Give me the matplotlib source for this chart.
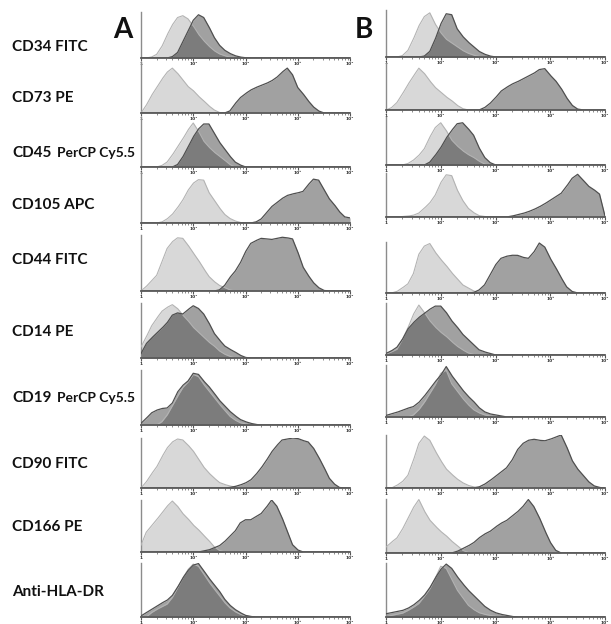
import numpy as np
import matplotlib
matplotlib.use("Agg")
import matplotlib.pyplot as plt
from matplotlib.ticker import LogLocator, NullFormatter, FixedLocator

# ---- data: histogram heights (% of panel height) at log10(intensity) = 0.0, 0.1, ... 4.0 ----
LOGX = np.round(np.arange(0, 4.01, 0.1), 2)

MARKERS = ["CD34", "CD73", "CD45", "CD105", "CD44", "CD14", "CD19", "CD90", "CD166", "Anti-HLA-DR"]
MAIN_LABELS = ["CD34 FITC", "CD73 PE", "CD45", "CD105 APC", "CD44 FITC", "CD14 PE", "CD19",
               "CD90 FITC", "CD166 PE", "Anti-HLA-DR"]
SUB_LABELS = ["", "", "PerCP Cy5.5", "", "", "", "PerCP Cy5.5", "", "", ""]
PANEL_TITLES = ["A", "B"]
TICK_LABELS = ["1", "10¹", "10²", "10³", "10⁴"]

# Column A
A_CD34_ISO = [0,0,2,8,25,50,72,88,92,85,70,52,38,26,16,9,5,2,1]
A_CD34_MARK = [0,0,0,0,0,0,3,12,35,58,82,94,88,68,45,28,17,10,5,2,0.5]
A_CD73_ISO = [0,15,34,50,66,80,88,78,65,52,44,33,24,14,6,1]
A_CD73_MARK = [0,0,0,0,0,0,0,0,0,0, 0,0,0,0,0,0,0,4,18,30, 38,45,50,54,58,63,70,80,88,75, 50,38,24,12,4]
A_CD45_ISO = [0,0,0,0,3,10,24,40,56,74, 88,72,52,40,30,22,14,5]
A_CD45_MARK = [0,0,0,0,0,0,0,5,20,40, 60,76,86,86,68,50,36,22,10,4]
A_CD105_ISO = [0,0,0,0,2,8,17,30,45,64, 78,85,84,60,45,30,17,9,4,1]
A_CD105_MARK = [0,0,0,0,0,0,0,0,0,0, 0,0,0,0,0,0,0,0,0,0, 0,0,2,8,20,32,40,48,54,57, 59,62,75,86,84,66,48,36,22,12, 10]
A_CD44_ISO = [0,8,18,28,52,76,88,95,94,82, 68,55,40,26,17,10,6,2]
A_CD44_MARK = [0,0,0,0,0,0,0,0,0,0, 0,0,0,0,0,2,10,24,35,50, 70,85,90,94,93,92,94,96,95,93, 70,43,28,15,6,1]
A_CD14_ISO = [20,38,58,72,85,92,97,90,78,68, 56,47,38,29,22,13,7,3]
A_CD14_MARK = [8,26,36,45,54,64,78,82,80,88, 95,90,80,64,45,33,22,16,11,5, 1]
A_CD19_ISO = [0,0,0,0,6,18,35,52,68,78, 92,88,74,62,50,38,27,16,9,4, 2]
A_CD19_MARK = [3,12,22,27,30,31,40,60,72,80, 94,92,80,70,58,45,35,25,17,10, 6,3,1]
A_CD90_ISO = [0,12,28,42,62,80,92,98,96,86, 74,58,42,30,20,11,7,4,2,1]
A_CD90_MARK = [0,0,0,0,0,0,0,0,0,0, 0,0,0,0,0,0,0,1,3,6, 10,16,27,40,55,72,85,96,98,100, 99,95,92,80,62,42,20,8,1]
A_CD166_ISO = [13,38,50,62,75,88,98,88,74,64, 52,43,32,22,10,3]
A_CD166_MARK = [0,0,0,0,0,0,0,0,0,0, 0,0,2,4,8,12,20,30,40,56, 62,62,68,74,86,100,88,66,40,14, 4]
A_HLA_ISO = [0,0,8,14,19,24,36,54,72,88, 98,94,80,65,52,40,27,17,10,5, 2]
A_HLA_MARK = [2,8,14,20,26,31,40,55,72,86, 96,99,86,72,60,48,33,22,14,8, 3,1]

# Column B
B_CD34_ISO = [0,0,0,3,14,38,66,86,94,70, 52,38,30,22,14,8,4,1]
B_CD34_MARK = [0,0,0,0,0,0,0,2,12,38, 70,92,90,60,44,32,22,12,6,2]
B_CD73_ISO = [0,5,16,34,54,72,89,78,62,48, 38,28,20,10,3]
B_CD73_MARK = [0,0,0,0,0,0,0,0,0,0, 0,0,0,0,0,0,0,0,5,14, 26,40,48,55,60,66,72,78,86,88, 74,62,46,26,10,2]
B_CD45_ISO = [0,0,0,0,3,10,20,34,58,78, 88,72,52,40,30,22,16,8,2]
B_CD45_MARK = [0,0,0,0,0,0,0,0,6,20, 36,56,72,86,88,76,62,36,16,5]
B_CD105_ISO = [0,0,0,1,2,4,9,20,32,50, 78,96,94,62,38,20,10,3,1]
B_CD105_MARK = [0,0,0,0,0,0,0,0,0,0, 0,0,0,0,0,0,0,0,0,0, 0,0,0,2,5,8,12,17,23,30, 38,46,54,70,88,97,84,70,62,52, 2]
B_CD44_ISO = [0,0,3,10,18,38,76,92,97,80, 66,54,40,28,16,10,4,1]
B_CD44_MARK = [0,0,0,0,0,0,0,0,0,0, 0,0,0,0,0,0,1,6,16,35, 55,68,72,74,74,70,68,80,98,90, 68,50,30,12,3]
B_CD14_ISO = [2,6,11,30,52,78,96,82,66,54, 44,36,26,17,10,4,1]
B_CD14_MARK = [3,8,15,30,50,62,72,80,88,94, 94,82,66,54,40,30,20,10,6,3]
B_CD19_ISO = [0,0,0,0,0,4,14,28,45,62, 84,90,64,50,36,24,14,8,4,2]
B_CD19_MARK = [3,6,9,13,17,20,28,40,54,68, 80,97,80,66,52,40,30,18,10,6, 4,2]
B_CD90_ISO = [0,0,5,12,24,52,84,98,90,70, 52,36,26,17,10,5,2,1]
B_CD90_MARK = [0,0,0,0,0,0,0,0,0,0, 0,0,0,0,0,0,0,2,7,14, 22,30,38,52,72,84,90,92,90,89, 92,96,100,78,52,36,24,12,4,1]
B_CD166_ISO = [11,20,28,44,64,84,99,78,61,50, 40,32,22,14,5,1]
B_CD166_MARK = [0,0,0,0,0,0,0,0,0,0, 0,0,0,3,8,13,19,28,35,40, 48,55,60,68,76,86,99,86,66,42, 20,5]
B_HLA_ISO = [0,3,5,7,12,18,25,38,52,72, 94,90,70,50,36,22,14,8,5,3, 1]
B_HLA_MARK = [6,8,10,12,16,22,30,40,54,72, 88,98,90,75,62,50,40,30,20,13, 8,5,3,1]

COL_A = [(A_CD34_ISO, A_CD34_MARK), (A_CD73_ISO, A_CD73_MARK), (A_CD45_ISO, A_CD45_MARK),
         (A_CD105_ISO, A_CD105_MARK), (A_CD44_ISO, A_CD44_MARK), (A_CD14_ISO, A_CD14_MARK),
         (A_CD19_ISO, A_CD19_MARK), (A_CD90_ISO, A_CD90_MARK), (A_CD166_ISO, A_CD166_MARK),
         (A_HLA_ISO, A_HLA_MARK)]
COL_B = [(B_CD34_ISO, B_CD34_MARK), (B_CD73_ISO, B_CD73_MARK), (B_CD45_ISO, B_CD45_MARK),
         (B_CD105_ISO, B_CD105_MARK), (B_CD44_ISO, B_CD44_MARK), (B_CD14_ISO, B_CD14_MARK),
         (B_CD19_ISO, B_CD19_MARK), (B_CD90_ISO, B_CD90_MARK), (B_CD166_ISO, B_CD166_MARK),
         (B_HLA_ISO, B_HLA_MARK)]

# ---- layout (pixels) ----
W, H = 611, 624
COL_X = [(141, 350), (386, 605)]
ROWS_A = [(12, 58), (62, 113), (117, 167), (172, 223), (235, 291), (303, 358), (370, 425),
          (438, 488), (500, 552), (563, 617)]
ROWS_B = [(10, 57), (63, 110), (117, 165), (173, 217), (242, 293), (303, 355), (365, 417),
          (435, 488), (499, 553), (563, 617)]
LABEL_Y = [47, 98, 153, 205, 260, 332, 398, 464, 527, 592]

ISO_FILL, ISO_EDGE = "#d8d8d8", "#b3b3b3"
MARK_FILL, MARK_EDGE = "#a1a1a1", "#4f4f4f"
OVER_FILL = "#7c7c7c"

fig = plt.figure(figsize=(W / 100, H / 100), dpi=100)
fig.patch.set_facecolor("white")

FONT = ["Lato", "DejaVu Sans"]


def pad(v):
    v = list(v)
    return np.array(v + [0] * (len(LOGX) - len(v)), dtype=float)


fine = np.linspace(0, 4, 801)


def draw_panel(x0, x1, top, base, iso, mark):
    ax = fig.add_axes([x0 / W, 1 - base / H, (x1 - x0) / W, (base - top) / H])
    ax.set_xscale("log")
    ax.set_xlim(1, 1e4)
    ax.set_ylim(0, 100)
    xf = 10 ** fine
    yi = np.interp(fine, LOGX, pad(iso))
    ym = np.interp(fine, LOGX, pad(mark))
    yo = np.minimum(yi, ym)
    ax.fill_between(xf, 0, yi, color=ISO_FILL, lw=0, zorder=1)
    ax.fill_between(xf, 0, ym, color=MARK_FILL, lw=0, zorder=2)
    ax.fill_between(xf, 0, yo, color=OVER_FILL, lw=0, zorder=3)
    ax.plot(xf, yi, color=ISO_EDGE, lw=0.8, zorder=4)
    ax.plot(xf, ym, color=MARK_EDGE, lw=0.9, zorder=5)
    for s in ("top", "right"):
        ax.spines[s].set_visible(False)
    ax.spines["left"].set_color("#8c8c8c")
    ax.spines["left"].set_linewidth(1.0)
    ax.spines["bottom"].set_color("#5a5a5a")
    ax.spines["bottom"].set_linewidth(1.3)
    ax.spines["bottom"].set_zorder(6)
    ax.set_yticks([])
    ax.xaxis.set_major_locator(FixedLocator([1, 10, 100, 1000, 10000]))
    ax.set_xticklabels(TICK_LABELS, fontsize=3.2, fontweight="bold", color="#333333")
    ax.xaxis.set_minor_locator(LogLocator(base=10, subs=np.arange(2, 10)))
    ax.xaxis.set_minor_formatter(NullFormatter())
    ax.tick_params(axis="x", which="major", length=2.2, width=0.8, color="#555555", pad=0.8)
    ax.tick_params(axis="x", which="minor", length=1.2, width=0.6, color="#777777")
    ax.patch.set_alpha(0)
    return ax


for (x0, x1), rows, data in zip(COL_X, [ROWS_A, ROWS_B], [COL_A, COL_B]):
    for (top, base), (iso, mark) in zip(rows, data):
        draw_panel(x0, x1, top, base, iso, mark)

# row labels
for lab, sub, y in zip(MAIN_LABELS, SUB_LABELS, LABEL_Y):
    fig.text(12 / W, 1 - y / H, lab, fontsize=11, fontweight="bold", family=FONT,
             va="center", ha="left", color="#111111")
    if sub:
        fig.text(57 / W, 1 - y / H, sub, fontsize=10, fontweight="bold", family=FONT,
                 va="center", ha="left", color="#111111")

# column letters
fig.text(123 / W, 1 - 30 / H, PANEL_TITLES[0], fontsize=20, fontweight="bold", family=FONT,
         va="center", ha="center", color="#111111")
fig.text(364 / W, 1 - 30 / H, PANEL_TITLES[1], fontsize=20, fontweight="bold", family=FONT,
         va="center", ha="center", color="#111111")

fig.savefig("out.png", dpi=100, facecolor="white")
